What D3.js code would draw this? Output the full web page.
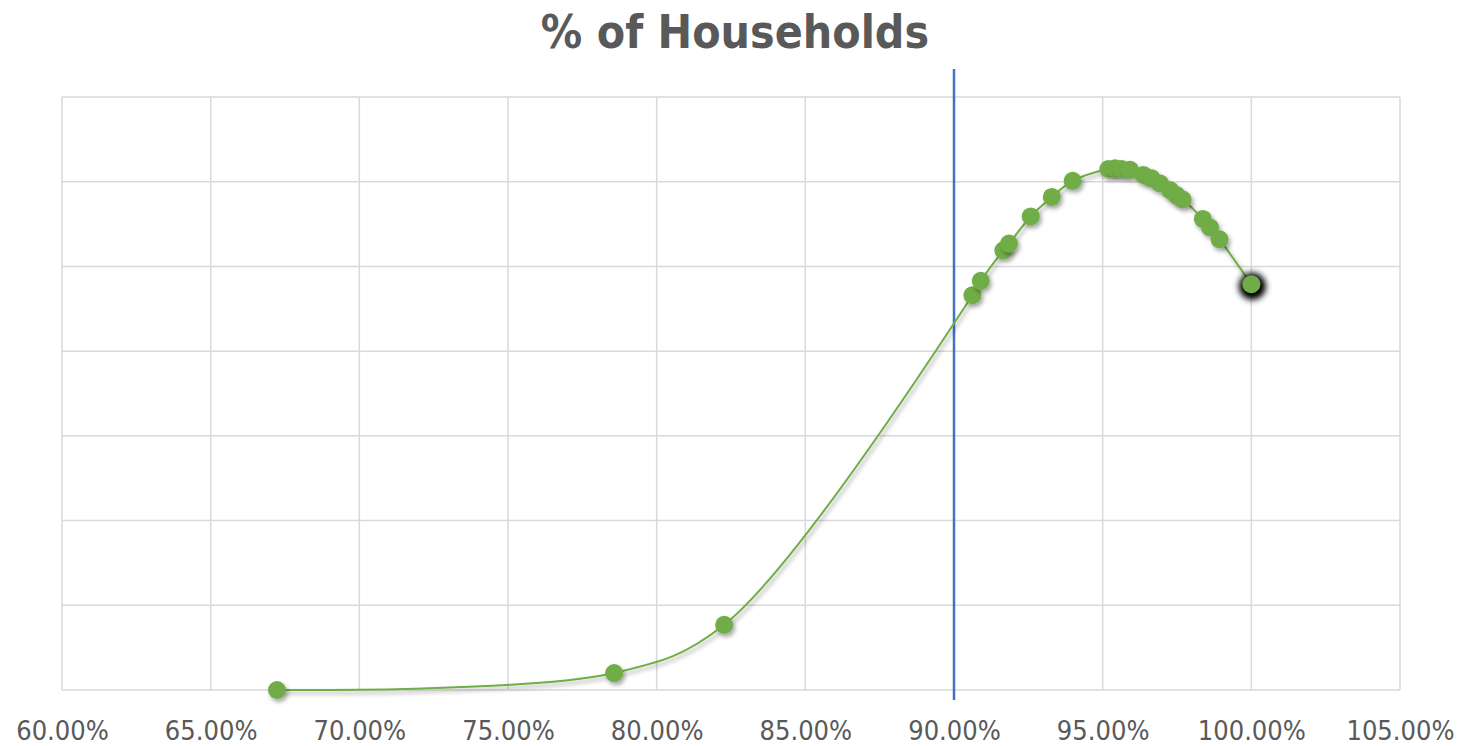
<!DOCTYPE html>
<html>
<head>
<meta charset="utf-8">
<script src="https://cdn.jsdelivr.net/npm/d3@7/dist/d3.min.js"></script>
<style>
  html, body { margin: 0; padding: 0; background: #fff; }
  svg { display: block; }
</style>
</head>
<body>
<svg id="chart" width="1465" height="746"></svg>
<script>
// ---- data ----
const title = "% of Households";
const xValues = [0.6723, 0.7857, 0.8227, 0.9062, 0.9090, 0.9166, 0.9185, 0.9258, 0.9329, 0.9399,
                 0.9519, 0.9542, 0.9564, 0.9592, 0.9637, 0.9665, 0.9693, 0.9727, 0.9749, 0.9769,
                 0.9837, 0.9861, 0.9893, 1.0000];
const yValues = [0.00, 0.20, 0.77, 4.66, 4.83, 5.19, 5.27, 5.59, 5.82, 6.01,
                 6.15, 6.16, 6.15, 6.14, 6.08, 6.04, 5.98, 5.90, 5.84, 5.79,
                 5.56, 5.46, 5.32, 4.79];
const xTicks = [0.60, 0.65, 0.70, 0.75, 0.80, 0.85, 0.90, 0.95, 1.00, 1.05];
const yTicks = [0, 1, 2, 3, 4, 5, 6, 7];
const referenceX = 0.90;
const highlightedIndex = 23;

// ---- layout ----
const svg = d3.select("#chart");
const plot = { left: 62, right: 1400, top: 97, bottom: 690 };
const x = d3.scaleLinear().domain([0.60, 1.05]).range([plot.left, plot.right]);
const y = d3.scaleLinear().domain([0, 7]).range([plot.bottom, plot.top]);
const green = "#70AD47";
const textColor = "#595959";
const gridColor = "#D9D9D9";
const fontFamily = "'DejaVu Sans Condensed', 'Open Sans', sans-serif";

const defs = svg.append("defs");
const shadow = defs.append("filter").attr("id", "shadow")
  .attr("x", "-50%").attr("y", "-50%").attr("width", "200%").attr("height", "200%");
shadow.append("feDropShadow").attr("dx", 2).attr("dy", 3).attr("stdDeviation", 2)
  .attr("flood-color", "#000").attr("flood-opacity", 0.35);
const glow = defs.append("filter").attr("id", "glow")
  .attr("x", "-100%").attr("y", "-100%").attr("width", "300%").attr("height", "300%");
glow.append("feGaussianBlur").attr("stdDeviation", 3);

// title
svg.append("text")
  .attr("x", 735).attr("y", 48)
  .attr("text-anchor", "middle")
  .attr("font-family", fontFamily)
  .attr("font-weight", "bold")
  .attr("font-size", 46)
  .attr("fill", textColor)
  .text(title);

// horizontal gridlines
svg.append("g").selectAll("line").data(yTicks).join("line")
  .attr("x1", plot.left).attr("x2", plot.right)
  .attr("y1", d => y(d)).attr("y2", d => y(d))
  .attr("stroke", gridColor).attr("stroke-width", 1.5);

// vertical gridlines
svg.append("g").selectAll("line").data(xTicks).join("line")
  .attr("x1", d => x(d)).attr("x2", d => x(d))
  .attr("y1", plot.top).attr("y2", plot.bottom)
  .attr("stroke", gridColor).attr("stroke-width", 1.5);

// x axis labels
const xAxis = d3.axisBottom(x).tickValues(xTicks).tickSize(0).tickPadding(0)
  .tickFormat(d3.format(".2%"));
const gx = svg.append("g").attr("transform", `translate(0,${plot.bottom})`).call(xAxis);
gx.select(".domain").remove();
gx.selectAll("text")
  .attr("y", 50).attr("dy", null)
  .attr("font-family", fontFamily)
  .attr("font-size", 27)
  .attr("fill", textColor);

// reference line
svg.append("line")
  .attr("x1", x(referenceX)).attr("x2", x(referenceX))
  .attr("y1", 69).attr("y2", 700)
  .attr("stroke", "#4472C4").attr("stroke-width", 2.5);

// series line
const pts = xValues.map((v, i) => [v, yValues[i]]);
const line = d3.line().x(d => x(d[0])).y(d => y(d[1])).curve(d3.curveCatmullRom.alpha(0.5));
svg.append("path")
  .datum(pts)
  .attr("d", line)
  .attr("fill", "none")
  .attr("stroke", green)
  .attr("stroke-width", 2)
  .attr("filter", "url(#shadow)");

// highlighted point glow
svg.append("circle")
  .attr("cx", x(xValues[highlightedIndex]) + 1)
  .attr("cy", y(yValues[highlightedIndex]) + 2)
  .attr("r", 13.5)
  .attr("fill", "#000")
  .attr("filter", "url(#glow)");

// markers
svg.append("g").selectAll("circle").data(pts).join("circle")
  .attr("cx", d => x(d[0])).attr("cy", d => y(d[1]))
  .attr("r", 9)
  .attr("fill", green)
  .attr("filter", "url(#shadow)");
</script>
</body>
</html>
